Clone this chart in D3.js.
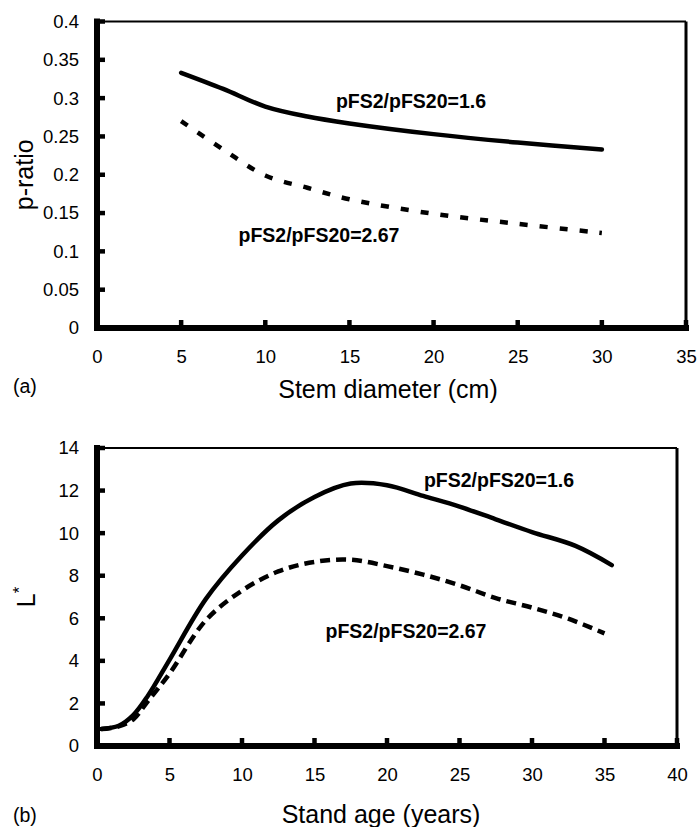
<!DOCTYPE html>
<html>
<head>
<meta charset="utf-8">
<script src="https://cdn.jsdelivr.net/npm/d3@7"></script>
<style>
  body { margin: 0; background: #fff; }
  svg { display: block; font-family: Arial, "Liberation Sans", Helvetica, sans-serif; }
</style>
</head>
<body>
<div id="chart"></div>
<script>
// panel (a): p-ratio vs stem diameter
var diamX = [5, 7.5, 10, 12.5, 15, 20, 25, 30];
var ratioLow = [0.333, 0.312, 0.289, 0.276, 0.267, 0.253, 0.242, 0.233];   // pFS2/pFS20=1.6
var ratioHigh = [0.270, 0.233, 0.199, 0.183, 0.168, 0.149, 0.136, 0.124];  // pFS2/pFS20=2.67
var ticksA_x = [0, 5, 10, 15, 20, 25, 30, 35];
var ticksA_y = [0, 0.05, 0.1, 0.15, 0.2, 0.25, 0.3, 0.35, 0.4];

// panel (b): L* vs stand age
var ageSolid = [0.3, 1.5, 2.5, 3.5, 5, 7.5, 10, 12.5, 15, 17.5, 20, 22.5, 25, 27.5, 30, 33, 35.5];
var lLow = [0.8, 0.95, 1.45, 2.35, 4.05, 6.9, 8.95, 10.6, 11.7, 12.33, 12.25, 11.75, 11.25, 10.65, 10.05, 9.4, 8.5];
var ageDash = [0.3, 1.5, 2.5, 3.5, 5, 7.5, 10, 12.5, 15, 17.5, 20, 22.5, 25, 27.5, 30, 32.5, 35];
var lHigh = [0.8, 0.92, 1.25, 2.1, 3.4, 5.9, 7.3, 8.2, 8.65, 8.75, 8.45, 8.05, 7.55, 6.95, 6.5, 5.98, 5.29];
var ticksB_x = [0, 5, 10, 15, 20, 25, 30, 35, 40];
var ticksB_y = [0, 2, 4, 6, 8, 10, 12, 14];

var width = 699, height = 827;

var svg = d3.select('#chart').append('svg')
  .attr('width', width)
  .attr('height', height);

function panel(opt) {
  var x = d3.scaleLinear().domain(opt.xDomain).range([opt.left, opt.right]);
  var y = d3.scaleLinear().domain(opt.yDomain).range([opt.bottom, opt.top]);
  var g = svg.append('g');

  // tick labels from d3 axes (lines drawn separately below)
  var xAxis = g.append('g')
    .attr('transform', 'translate(0,' + opt.bottom + ')')
    .call(d3.axisBottom(x).tickValues(opt.xTicks).tickSize(0).tickPadding(22));
  var yAxis = g.append('g')
    .attr('transform', 'translate(' + opt.left + ',0)')
    .call(d3.axisLeft(y).tickValues(opt.yTicks).tickSize(0).tickPadding(18)
      .tickFormat(function(d) { return String(+d.toFixed(2)); }));
  [xAxis, yAxis].forEach(function(a) {
    a.selectAll('.domain').remove();
    a.selectAll('.tick line').remove();
    a.selectAll('.tick text')
      .attr('font-family', 'Arial, "Liberation Sans", sans-serif')
      .attr('font-size', 18.5)
      .attr('fill', '#000');
  });

  var frame = g.append('g').attr('stroke', '#000').attr('fill', 'none');

  // thinner frame top/right
  frame.append('line')
    .attr('x1', opt.left).attr('x2', opt.right)
    .attr('y1', opt.top).attr('y2', opt.top)
    .attr('stroke-width', 2.2);
  frame.append('line')
    .attr('x1', opt.right).attr('x2', opt.right)
    .attr('y1', opt.top).attr('y2', opt.bottom)
    .attr('stroke-width', 3);

  // inward ticks
  frame.selectAll('.xt')
    .data(opt.xTicks.filter(function(d) { return d !== opt.xDomain[0]; }))
    .enter().append('line')
    .attr('x1', function(d) { return x(d); }).attr('x2', function(d) { return x(d); })
    .attr('y1', opt.bottom).attr('y2', opt.bottom - 8)
    .attr('stroke-width', 4.5);
  frame.selectAll('.yt')
    .data(opt.yTicks.filter(function(d) { return d !== opt.yDomain[0]; }))
    .enter().append('line')
    .attr('x1', opt.left).attr('x2', opt.left + 8)
    .attr('y1', function(d) { return y(d); }).attr('y2', function(d) { return y(d); })
    .attr('stroke-width', 4.5);

  // heavy left and bottom axis lines
  frame.append('path')
    .attr('d', 'M' + opt.left + ',' + opt.top + 'V' + opt.bottom + 'H' + opt.right)
    .attr('stroke-width', 6)
    .attr('stroke-linecap', 'square');

  var line = d3.line()
    .x(function(d) { return x(d[0]); })
    .y(function(d) { return y(d[1]); })
    .curve(d3.curveCatmullRom);

  g.append('path')
    .datum(d3.zip(opt.dashX, opt.dashY))
    .attr('d', line)
    .attr('fill', 'none')
    .attr('stroke', '#000')
    .attr('stroke-width', 4.5)
    .attr('stroke-dasharray', opt.dash);

  g.append('path')
    .datum(d3.zip(opt.solidX, opt.solidY))
    .attr('d', line)
    .attr('fill', 'none')
    .attr('stroke', '#000')
    .attr('stroke-width', 4.5)
    .attr('stroke-linecap', 'round');

  // series labels
  opt.labels.forEach(function(l) {
    g.append('text')
      .attr('x', l.x).attr('y', l.y)
      .attr('text-anchor', 'middle')
      .attr('font-weight', 'bold')
      .attr('font-size', 19.5)
      .text(l.text);
  });

  // axis titles
  g.append('text')
    .attr('x', opt.xTitleX).attr('y', opt.xTitleY)
    .attr('text-anchor', 'middle')
    .attr('font-size', 25)
    .text(opt.xTitle);

  var yt = g.append('text')
    .attr('transform', 'translate(' + opt.yTitleX + ',' + (opt.top + opt.bottom) / 2 + ') rotate(-90)')
    .attr('text-anchor', 'middle')
    .attr('font-size', 25)
    .text(opt.yTitle);
  if (opt.ySup) {
    yt.append('tspan').attr('dy', -10).attr('font-size', 17).text(opt.ySup);
  }

  g.append('text')
    .attr('x', 13).attr('y', opt.tagY)
    .attr('font-size', 19.5)
    .text(opt.tag);
}

panel({
  xDomain: [0, 35], yDomain: [0, 0.4],
  left: 97, right: 686, top: 21.5, bottom: 328,
  xTicks: ticksA_x, yTicks: ticksA_y,
  solidX: diamX, solidY: ratioLow,
  dashX: diamX, dashY: ratioHigh,
  dash: '8,12',
  labels: [
    {text: 'pFS2/pFS20=1.6', x: 411, y: 108},
    {text: 'pFS2/pFS20=2.67', x: 319, y: 242}
  ],
  xTitle: 'Stem diameter (cm)', xTitleX: 388, xTitleY: 398,
  yTitle: 'p-ratio', yTitleX: 33,
  tag: '(a)', tagY: 393
});

panel({
  xDomain: [0, 40], yDomain: [0, 14],
  left: 97, right: 677, top: 448, bottom: 746,
  xTicks: ticksB_x, yTicks: ticksB_y,
  solidX: ageSolid, solidY: lLow,
  dashX: ageDash, dashY: lHigh,
  dash: '10,6',
  labels: [
    {text: 'pFS2/pFS20=1.6', x: 499, y: 487},
    {text: 'pFS2/pFS20=2.67', x: 406, y: 638}
  ],
  xTitle: 'Stand age (years)', xTitleX: 381, xTitleY: 823,
  yTitle: 'L', ySup: '*', yTitleX: 35,
  tag: '(b)', tagY: 822
});
</script>
</body>
</html>
